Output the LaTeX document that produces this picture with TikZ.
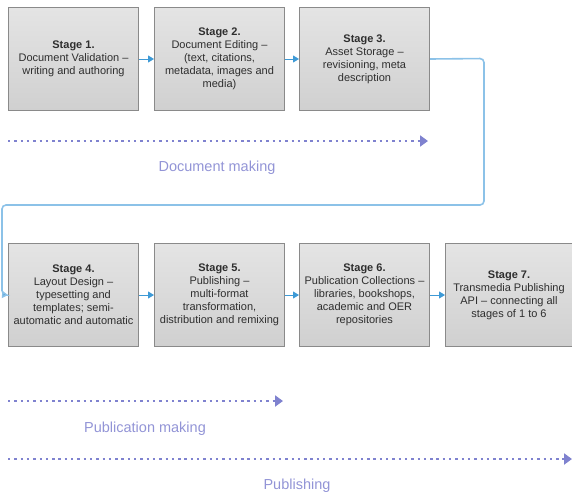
\documentclass[tikz,border=0pt]{standalone}
\usepackage{fontspec}
\setmainfont{Liberation Sans}
\usetikzlibrary{arrows.meta,shadings}
\definecolor{boxborder}{HTML}{8A8A8A}
\definecolor{boxtop}{HTML}{E4E4E4}
\definecolor{boxbot}{HTML}{D0D0D0}
\definecolor{linkblue}{HTML}{3E9AD6}
\definecolor{loopblue}{HTML}{8CC2E8}
\definecolor{dotblue}{HTML}{7F82CF}
\definecolor{labelblue}{HTML}{9294D6}
\definecolor{txt}{HTML}{2E2E2E}
\tikzset{
  x=1pt, y=-1pt,
  stagebox/.style={draw=boxborder, line width=1pt, top color=boxtop, bottom color=boxbot,
    minimum width=130pt, minimum height=103pt, inner sep=2pt, align=center,
    font=\fontsize{11}{13}\selectfont, text=txt, anchor=north west},
  link/.style={draw=linkblue, line width=1pt, -{Triangle[length=6pt,width=7pt]}},
  looplink/.style={draw=loopblue, line width=1.6pt, rounded corners=4pt, -{Triangle[length=6pt,width=7pt,fill=linkblue]}},
  dotarrow/.style={draw=dotblue, line width=2.8pt, dash pattern=on 2.4pt off 3.9pt,
    -{Triangle[length=8pt,width=11pt,fill=dotblue]}},
  phase/.style={text=labelblue, font=\fontsize{14.5}{16}\selectfont}
}
\begin{document}
\begin{tikzpicture}
\useasboundingbox (0,0) rectangle (572,496);
% top row
\node[stagebox] (s1) at (8,7) {\textbf{Stage 1.}\\Document Validation –\\writing and authoring};
\node[stagebox] (s2) at (154,7) {\textbf{Stage 2.}\\Document Editing –\\(text, citations,\\metadata, images and\\media)};
\node[stagebox] (s3) at (299,7) {\textbf{Stage 3.}\\Asset Storage –\\revisioning, meta\\description};
% bottom row
\node[stagebox] (s4) at (8,243) {\textbf{Stage 4.}\\Layout Design –\\typesetting and\\templates; semi-\\automatic and automatic};
\node[stagebox] (s5) at (154,243) {\textbf{Stage 5.}\\Publishing –\\multi-format\\transformation,\\distribution and remixing};
\node[stagebox] (s6) at (299,243) {\textbf{Stage 6.}\\Publication Collections –\\libraries, bookshops,\\academic and OER\\repositories};
\node[stagebox, minimum width=127pt] (s7) at (445,243) {\textbf{Stage 7.}\\Transmedia Publishing\\API – connecting all\\stages of 1 to 6};
% links
\draw[link] (s1.east) -- (s2.west);
\draw[link] (s2.east) -- (s3.west);
\draw[looplink] (s3.east) -- (484,58.5) -- (484,205) -- (2,205) -- (2,294.5) -- (s4.west);
\draw[link] (s4.east) -- (s5.west);
\draw[link] (s5.east) -- (s6.west);
\draw[link] (s6.east) -- (s7.west);
% phase arrows
\coordinate (d1) at (8,141);
\coordinate (d2) at (428,141);
\draw[dotarrow] (d1) -- (d2);
\node[phase] (dl) at (217,168) {Document making};
\coordinate (p1) at (8,401);
\coordinate (p2) at (283,401);
\draw[dotarrow] (p1) -- (p2);
\node[phase] (pl) at (145,429) {Publication making};
\coordinate (q1) at (8,459);
\coordinate (q2) at (572,459);
\draw[dotarrow] (q1) -- (q2);
\node[phase] (ql) at (297,486) {Publishing};
\end{tikzpicture}
\end{document}
